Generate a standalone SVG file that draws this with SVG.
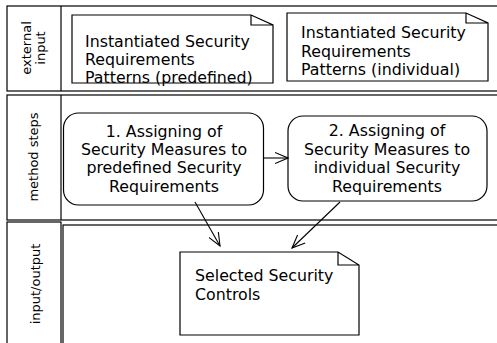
<svg xmlns="http://www.w3.org/2000/svg" width="497" height="343" viewBox="0 0 497 343">
  <style>
    .lane { fill: #ffffff; stroke: #000000; stroke-width: 1.2; }
    .note { fill: #ffffff; stroke: #000000; stroke-width: 1.2; stroke-linejoin: miter; }
    .step { fill: #ffffff; stroke: #000000; stroke-width: 1.2; }
    .txt { font-family: "DejaVu Sans", Verdana, sans-serif; font-size: 15.8px; fill: #000000; }
    .lbl { font-family: "DejaVu Sans", Verdana, sans-serif; font-size: 13px; fill: #000000; text-anchor: middle; }
    .ctr { text-anchor: middle; }
    .conn { fill: none; stroke: #000000; stroke-width: 1.1; }
  </style>
  <defs>
    <marker id="open" viewBox="0 0 14 14" refX="13" refY="7" markerWidth="14" markerHeight="14" markerUnits="userSpaceOnUse" orient="auto">
      <path d="M0,1.5 L13,7 L0,12.5" fill="none" stroke="#000000" stroke-width="1.1"/>
    </marker>
  </defs>

  <rect width="497" height="343" fill="#ffffff"/>

  <!-- swimlanes -->
  <g id="lane-external-input">
    <rect class="lane" x="7" y="6" width="510" height="85"/>
    <line class="lane" x1="61" y1="6" x2="61" y2="91"/>
    <text class="lbl" transform="translate(33,48) rotate(-90)"><tspan x="0" y="-2">external</tspan><tspan x="0" y="12">input</tspan></text>
  </g>
  <g id="lane-method-steps">
    <rect class="lane" x="7" y="95" width="510" height="125"/>
    <line class="lane" x1="61" y1="95" x2="61" y2="220"/>
    <text class="lbl" transform="translate(38,157) rotate(-90)" y="0">method steps</text>
  </g>
  <g id="lane-input-output">
    <rect class="lane" x="7" y="222" width="54" height="140"/>
    <rect class="lane" x="63" y="225" width="460" height="140"/>
    <text class="lbl" transform="translate(40,284) rotate(-90)" y="0">input/output</text>
  </g>

  <!-- external input artifacts -->
  <g id="note-predefined">
    <path class="note" d="M72,15 H251 L273,25 V83 H72 Z M251,15 V25 H273"/>
    <text class="txt"><tspan x="85" y="47">Instantiated Security</tspan><tspan x="85" y="65">Requirements</tspan><tspan x="85" y="83">Patterns (predefined)</tspan></text>
  </g>
  <g id="note-individual">
    <path class="note" d="M287,13 H466 L488,23 V81 H287 Z M466,13 V23 H488"/>
    <text class="txt"><tspan x="301" y="38">Instantiated Security</tspan><tspan x="301" y="57">Requirements</tspan><tspan x="301" y="75">Patterns (individual)</tspan></text>
  </g>

  <!-- method steps -->
  <g id="step-1">
    <rect class="step" x="63.5" y="113" width="200" height="92" rx="15" ry="15"/>
    <text class="txt ctr"><tspan x="164" y="137">1. Assigning of</tspan><tspan x="164" y="155">Security Measures to</tspan><tspan x="164" y="173">predefined Security</tspan><tspan x="164" y="192">Requirements</tspan></text>
  </g>
  <g id="step-2">
    <rect class="step" x="288" y="116" width="199" height="85" rx="15" ry="15"/>
    <text class="txt ctr"><tspan x="387" y="136">2. Assigning of</tspan><tspan x="387" y="155">Security Measures to</tspan><tspan x="387" y="173">individual Security</tspan><tspan x="387" y="192">Requirements</tspan></text>
  </g>

  <!-- output artifact -->
  <g id="note-controls">
    <path class="note" d="M180,252 H338 L359,265 V335 H180 Z M338,252 V265 H359"/>
    <text class="txt"><tspan x="195" y="281">Selected Security</tspan><tspan x="195" y="300">Controls</tspan></text>
  </g>

  <!-- connectors -->
  <g id="connectors">
    <line class="conn" x1="263.5" y1="158" x2="288" y2="158" marker-end="url(#open)"/>
    <line class="conn" x1="195" y1="202" x2="220" y2="246" marker-end="url(#open)"/>
    <line class="conn" x1="340" y1="202" x2="292" y2="248" marker-end="url(#open)"/>
  </g>
</svg>
